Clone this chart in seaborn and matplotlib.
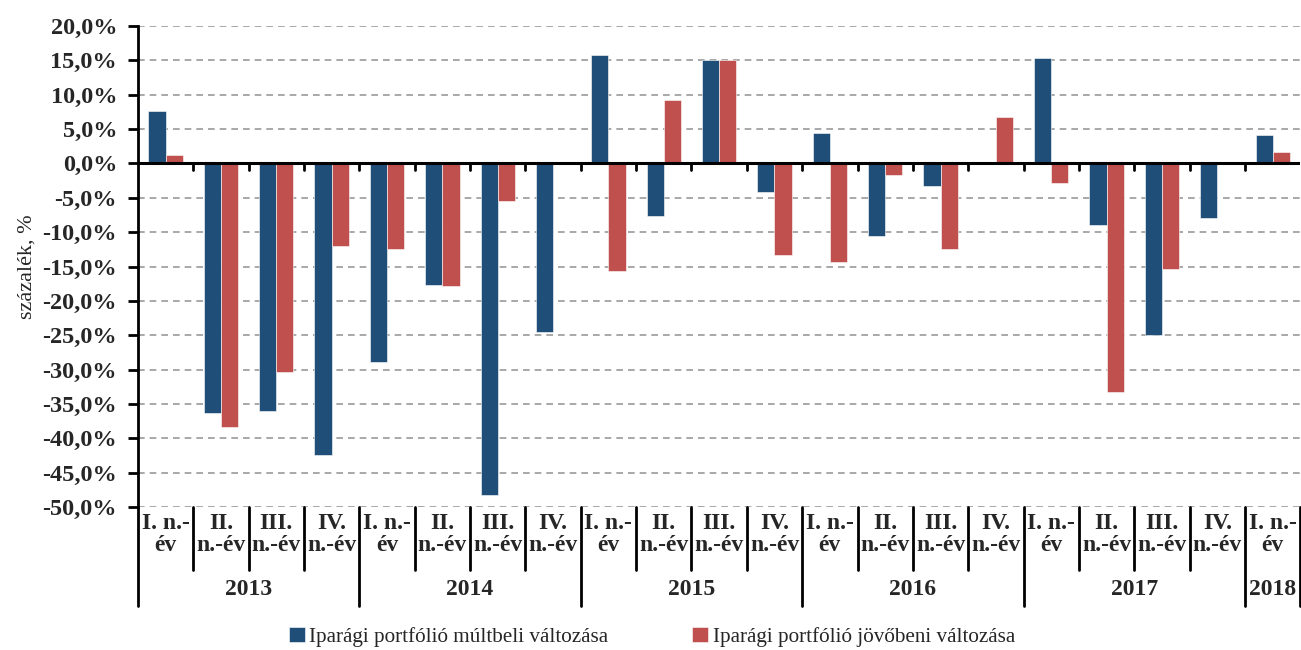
import numpy as np
import pandas as pd
import seaborn as sns
import matplotlib
matplotlib.use("Agg")
from matplotlib import pyplot as plt
from matplotlib.ticker import FuncFormatter, MultipleLocator
import matplotlib.transforms as mtransforms

sns.set_style("white")
plt.rcParams['font.family'] = ['Liberation Serif', 'DejaVu Serif']
plt.rcParams['axes.unicode_minus'] = False

# quarters 2013 Q1 .. 2018 Q1
years = ['2013', '2014', '2015', '2016', '2017', '2018']
year_sizes = [4, 4, 4, 4, 4, 1]
quarter_labels = ['I. n.-\név', 'II.\nn.-év', 'III.\nn.-év', 'IV.\nn.-év']

past = [7.6, -36.3, -36.0, -42.4,
        -28.9, -17.7, -48.3, -24.6,
        15.8, -7.6, 15.0, -4.1,
        4.4, -10.6, -3.3, 0.0,
        15.4, -8.9, -24.9, -7.9,
        4.1]
future = [1.2, -38.4, -30.4, -12.0,
          -12.5, -17.8, -5.4, 0.0,
          -15.7, 9.2, 15.0, -13.3,
          -14.4, -1.7, -12.5, 6.8,
          -2.9, -33.3, -15.3, 0.0,
          1.6]

s_past = 'Iparági portfólió múltbeli változása'
s_future = 'Iparági portfólió jövőbeni változása'

keys = []
labels = []
for y, n in zip(years, year_sizes):
    for q in range(n):
        keys.append(f'{y} Q{q + 1}')
        labels.append(quarter_labels[q])

df = pd.DataFrame({
    'kat': keys * 2,
    'ertek': past + future,
    'sorozat': [s_past] * len(keys) + [s_future] * len(keys),
})

fig = plt.figure(figsize=(13.01, 6.5), dpi=100)
ax = fig.add_axes([0.106, 0.22, 0.8935, 0.74])

sns.barplot(data=df, x='kat', y='ertek', hue='sorozat', order=keys,
            hue_order=[s_past, s_future],
            palette=['#1F4E79', '#C0504D'], saturation=1, width=0.62, gap=0,
            edgecolor='white', linewidth=0.4, ax=ax, legend=True)

ax.set_ylim(-50, 20)
ax.set_xlim(-0.5, len(keys) - 0.5)
ax.yaxis.set_major_locator(MultipleLocator(5))
ax.yaxis.set_major_formatter(FuncFormatter(lambda v, p: f'{v:.1f}%'.replace('.', ',')))
ax.grid(axis='y', color='#999999', linestyle=(0, (4, 3)), linewidth=1.2)
ax.set_axisbelow(True)

for s in ['top', 'right', 'bottom']:
    ax.spines[s].set_visible(False)
ax.spines['left'].set_linewidth(2)
ax.spines['left'].set_color('black')
ax.tick_params(axis='y', direction='out', length=7, width=2, color='black',
               labelsize=17.5, pad=8, left=True)
for t in ax.get_yticklabels():
    t.set_fontweight('bold')
ax.set_xticks([])
ax.set_xlabel('')
ax.set_ylabel('százalék, %', fontsize=16, labelpad=4)

# zero line with ticks at category boundaries
ax.axhline(0, color='black', linewidth=2.2, zorder=5)
for i in range(1, len(keys)):
    ax.plot([i - 0.5, i - 0.5], [0, -1.0], color='black', linewidth=2, zorder=5)

# category labels and separators below plot
trans = mtransforms.blended_transform_factory(ax.transData, ax.transAxes)
for i, lab in enumerate(labels):
    ax.text(i, -0.012, lab, transform=trans, ha='center', va='top',
            fontsize=17, fontweight='bold', linespacing=1.1)
year_starts = np.cumsum([0] + year_sizes)
for i in range(len(keys) + 1):
    long_line = i in year_starts
    y_end = -0.205 if long_line else -0.13
    ax.plot([i - 0.5, i - 0.5], [0, y_end], transform=trans, color='black',
            linewidth=2, clip_on=False)
for y, a, b in zip(years, year_starts[:-1], year_starts[1:]):
    ax.text((a + b - 1) / 2, -0.15, y, transform=trans, ha='center', va='top',
            fontsize=17, fontweight='bold')

handles, lbls = ax.get_legend_handles_labels()
ax.legend_.remove()
fig.legend(handles, lbls, loc='center', bbox_to_anchor=(0.501, 0.02), ncol=2,
           frameon=False, fontsize=15.2, handlelength=0.75, handleheight=0.75,
           handletextpad=0.2, columnspacing=4.0)

fig.savefig('out.png', dpi=100)
